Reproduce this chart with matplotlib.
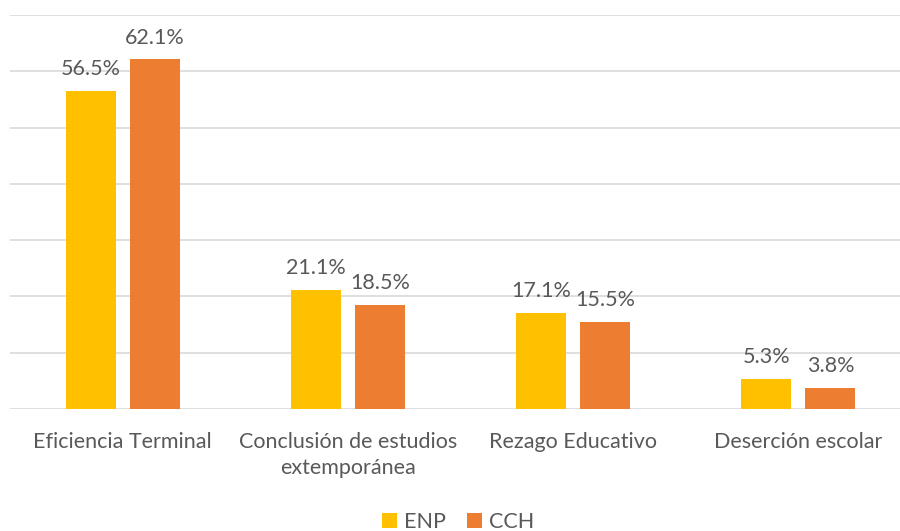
import matplotlib
matplotlib.use('Agg')
from matplotlib import pyplot as plt
import numpy as np

categories = ['Eficiencia Terminal', 'Conclusión de estudios\nextemporánea',
              'Rezago Educativo', 'Deserción escolar']
enp = [56.5, 21.1, 17.1, 5.3]
cch = [62.1, 18.5, 15.5, 3.8]
series_names = ['ENP', 'CCH']

plt.rcParams['font.family'] = ['Lato', 'DejaVu Sans']
text_color = '#595959'
fs = 15.5

fig = plt.figure(figsize=(9, 5.31), dpi=100)
ax = fig.add_axes([10/900, 1 - 409/531, 901/900, 394/531])

x = np.arange(len(categories))
w = 0.222
off = 0.142
b1 = ax.bar(x - off, enp, w, color='#FFC000', label=series_names[0], zorder=3)
b2 = ax.bar(x + off, cch, w, color='#ED7D31', label=series_names[1], zorder=3)

for bars, vals in ((b1, enp), (b2, cch)):
    for b, v in zip(bars, vals):
        ax.annotate('%.1f%%' % v, (b.get_x() + b.get_width() / 2, v),
                    xytext=(0, 8.5), textcoords='offset points',
                    ha='center', va='bottom', fontsize=fs, color=text_color)

ax.set_xlim(-0.5, len(categories) - 0.5)
ax.set_ylim(0, 70)
ax.set_yticks(np.arange(0, 71, 10))
ax.yaxis.grid(True, color='#d9d9d9', linewidth=1.2, zorder=0)
ax.tick_params(axis='y', left=False, labelleft=False)
ax.tick_params(axis='x', bottom=False, labelsize=fs, labelcolor=text_color, pad=13)
ax.set_xticks(x)
ax.set_xticklabels(categories, linespacing=1.4)
for s in ax.spines.values():
    s.set_visible(False)

fig.legend(loc='center', bbox_to_anchor=(458/900, 1 - 522/531), ncol=2,
           frameon=False, fontsize=fs, labelcolor=text_color,
           handlelength=0.7, handleheight=0.7, handletextpad=0.3, columnspacing=1.0)

plt.savefig('out.png', dpi=100)
